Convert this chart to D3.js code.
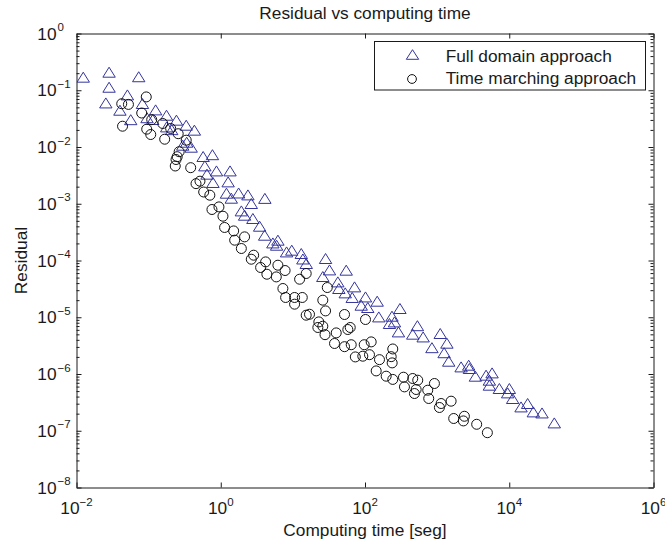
<!DOCTYPE html>
<html><head><meta charset="utf-8">
<script src="https://cdn.jsdelivr.net/npm/d3@7"></script>
<style>body{margin:0;background:#fff}svg{display:block}</style>
</head><body>
<script>
// ---- data ----
const fullTime = [0.0124,0.0283,0.0729,0.0283,0.0508,0.0255,0.0400,0.0821,0.0565,0.125,0.0950,0.177,0.114,0.243,0.178,0.332,0.209,0.431,0.337,0.297,0.389,0.570,0.767,0.602,0.872,1.345,0.644,0.780,1.266,1.20,1.77,1.40,2.38,4.09,2.65,1.93,2.14,2.79,3.46,4.06,5.28,5.95,6.20,8.18,9.65,13.07,13.75,15.33,28.4,32.2,54.9,26.0,42.0,43.4,71.6,53.2,66.5,101.6,88.6,147.6,109.3,155.3,236.6,305,218.5,256.3,291,533,459,640,1104,847,1367,1250,1448,2150,2740,2802,3393,4771,5780,5301,5301,7294,10030,9502,11150,14570,17980,21570,28470,42140];
const fullResidual = [0.170,0.208,0.173,0.113,0.0828,0.0598,0.0445,0.0584,0.0303,0.0451,0.0328,0.0363,0.0305,0.0297,0.0226,0.0242,0.0202,0.0198,0.01215,0.01076,0.00992,0.00680,0.00732,0.00465,0.00379,0.00379,0.00332,0.00237,0.00243,0.001535,0.001547,0.001253,0.001432,0.001243,0.00101,7.48e-4,6.28e-4,5.50e-4,4.02e-4,2.79e-4,2.04e-4,1.86e-4,2.28e-4,1.417e-4,1.519e-4,1.328e-4,1.063e-4,8.85e-5,1.084e-4,6.83e-5,6.75e-5,5.22e-5,4.20e-5,3.21e-5,3.43e-5,2.69e-5,2.23e-5,2.28e-5,1.63e-5,1.918e-5,1.485e-5,1.014e-5,1.043e-5,1.426e-5,7.76e-6,8.28e-6,5.52e-6,7.10e-6,5.03e-6,4.50e-6,5.17e-6,2.91e-6,3.49e-6,2.37e-6,1.68e-6,1.334e-6,1.429e-6,1.250e-6,9.15e-7,9.53e-7,1.046e-6,7.78e-7,6.35e-7,5.55e-7,5.55e-7,4.65e-7,3.70e-7,2.63e-7,3.02e-7,2.15e-7,2.06e-7,1.375e-7];
const marchTime = [0.0927,0.0424,0.0525,0.0802,0.0435,0.1104,0.157,0.0941,0.107,0.202,0.257,0.167,0.332,0.265,0.249,0.240,0.234,0.383,0.515,0.454,0.580,0.706,0.755,0.944,1.073,1.13,1.51,2.14,1.56,1.93,2.86,2.65,4.19,3.57,6.20,7.80,4.36,5.89,15.3,12.4,7.27,7.93,30.0,10.56,13.5,10.56,26.0,15.3,17.0,28.4,52.0,101.6,22.9,26.0,22.2,27.9,57.8,62.4,39.9,37.8,52.0,64.4,97.5,121.8,242.7,73.4,93.2,115.4,158.8,230.7,238,142.9,196.6,242.7,341.5,459,538.6,352.4,512,485,917.6,741,765,1136,1076,1563,1698,2388,2313,3536,4974];
const marchResidual = [0.0763,0.0579,0.0563,0.0397,0.02325,0.0303,0.02595,0.0206,0.0166,0.0212,0.01715,0.01372,0.01318,0.00826,0.00675,0.00602,0.00463,0.00432,0.00250,0.00226,0.00161,0.001415,7.92e-4,8.80e-4,6.03e-4,3.82e-4,3.32e-4,2.61e-4,2.28e-4,1.627e-4,1.24e-4,1.054e-4,9.45e-5,7.53e-5,8.26e-5,6.66e-5,5.73e-5,5.14e-5,5.90e-5,4.68e-5,3.21e-5,2.23e-5,3.34e-5,2.23e-5,2.23e-5,1.70e-5,2.00e-5,1.087e-5,1.13e-5,1.294e-5,1.118e-5,9.13e-6,8.28e-6,6.95e-6,6.60e-6,4.93e-6,6.08e-6,6.60e-6,5.30e-6,3.45e-6,3.03e-6,3.28e-6,3.28e-6,3.68e-6,2.76e-6,2.00e-6,2.06e-6,2.19e-6,1.79e-6,2.02e-6,1.57e-6,1.134e-6,9.15e-7,8.03e-7,8.78e-7,8.33e-7,7.78e-7,5.93e-7,5.33e-7,4.53e-7,6.80e-7,5.18e-7,3.70e-7,3.02e-7,2.57e-7,3.32e-7,1.644e-7,1.80e-7,1.49e-7,1.30e-7,9.24e-8];
const xTickExponents = [-2, 0, 2, 4, 6];
const yTickExponents = [-8, -7, -6, -5, -4, -3, -2, -1, 0];
const seriesNames = ["Full domain approach", "Time marching approach"];
const titleText = "Residual vs computing time";
const xLabelText = "Computing time [seg]";
const yLabelText = "Residual";

// ---- layout ----
const W = 665, H = 544;
const P = {l: 76.5, r: 653.5, t: 33.5, b: 487.5};
const FONT = "'Liberation Sans', Arial, Helvetica, sans-serif";
const INK = "#1a1a1a";
const BLUE = "#34349c";

const x = d3.scaleLog().domain([1e-2, 1e6]).range([P.l, P.r]);
const y = d3.scaleLog().domain([1e-8, 1]).range([P.b, P.t]);

const svg = d3.select("body").append("svg")
  .attr("width", W).attr("height", H)
  .style("font-family", FONT);
svg.append("rect").attr("width", W).attr("height", H).attr("fill", "#fff");

const xMajor = xTickExponents.map(e => Math.pow(10, e));
const yMajor = yTickExponents.map(e => Math.pow(10, e));
const yMinor = [];
for (let i = 0; i < yTickExponents.length - 1; i++)
  for (let k = 2; k <= 9; k++) yMinor.push(k * Math.pow(10, yTickExponents[i]));

function styleAxis(g) {
  g.selectAll("path.domain").attr("stroke", INK).attr("stroke-width", 1);
  g.selectAll(".tick line").attr("stroke", INK).attr("stroke-width", 1);
  g.selectAll(".tick text").remove();
}
// major ticks on all four sides (inward)
svg.append("g").attr("transform", `translate(0,${P.b})`)
  .call(d3.axisBottom(x).tickValues(xMajor).tickSizeInner(-5).tickSizeOuter(0).tickFormat("")).call(styleAxis);
svg.append("g").attr("transform", `translate(0,${P.t})`)
  .call(d3.axisTop(x).tickValues(xMajor).tickSizeInner(-5).tickSizeOuter(0).tickFormat("")).call(styleAxis);
svg.append("g").attr("transform", `translate(${P.l},0)`)
  .call(d3.axisLeft(y).tickValues(yMajor).tickSizeInner(-5).tickSizeOuter(0).tickFormat("")).call(styleAxis);
svg.append("g").attr("transform", `translate(${P.r},0)`)
  .call(d3.axisRight(y).tickValues(yMajor).tickSizeInner(-5).tickSizeOuter(0).tickFormat("")).call(styleAxis);
// minor y ticks
svg.append("g").attr("transform", `translate(${P.l},0)`)
  .call(d3.axisLeft(y).tickValues(yMinor).tickSizeInner(-3).tickSizeOuter(0).tickFormat("")).call(styleAxis)
  .select("path.domain").remove();
svg.append("g").attr("transform", `translate(${P.r},0)`)
  .call(d3.axisRight(y).tickValues(yMinor).tickSizeInner(-3).tickSizeOuter(0).tickFormat("")).call(styleAxis)
  .select("path.domain").remove();

const expStr = e => (e < 0 ? "\u2212" + (-e) : String(e));

// x tick labels
xTickExponents.forEach(e => {
  const t = svg.append("text").attr("x", x(Math.pow(10, e))).attr("y", 514)
    .attr("text-anchor", "middle").attr("fill", INK).attr("font-size", 17.3);
  t.append("tspan").text("10");
  t.append("tspan").attr("dy", -8.3).attr("font-size", 11.5).text(expStr(e));
});
// y tick labels
yTickExponents.forEach(e => {
  const yy = y(Math.pow(10, e));
  svg.append("text").attr("x", 56.5).attr("y", yy + 6.2).attr("text-anchor", "end")
    .attr("fill", INK).attr("font-size", 17.3).text("10");
  svg.append("text").attr("x", 57.5).attr("y", yy - 2.4).attr("text-anchor", "start")
    .attr("fill", INK).attr("font-size", 11.5).text(expStr(e));
});

// title and axis labels
svg.append("text").attr("x", (P.l + P.r) / 2).attr("y", 19).attr("text-anchor", "middle")
  .attr("fill", INK).attr("font-size", 17.3).text(titleText);
svg.append("text").attr("x", (P.l + P.r) / 2).attr("y", 536).attr("text-anchor", "middle")
  .attr("fill", INK).attr("font-size", 17.3).text(xLabelText);
svg.append("text").attr("transform", `translate(27,${(P.t + P.b) / 2}) rotate(-90)`)
  .attr("text-anchor", "middle").attr("fill", INK).attr("font-size", 17.3).text(yLabelText);

// markers
const tri = (hw, hh) => `M0,${-hh}L${hw},${hh}L${-hw},${hh}Z`;
const fullData = fullTime.map((t, i) => [t, fullResidual[i]]);
const marchData = marchTime.map((t, i) => [t, marchResidual[i]]);

svg.append("g").selectAll("path").data(fullData).join("path")
  .attr("d", tri(6.2, 5))
  .attr("transform", d => `translate(${x(d[0])},${y(d[1])})`)
  .attr("fill", "none").attr("stroke", BLUE).attr("stroke-width", 1);
svg.append("g").selectAll("circle").data(marchData).join("circle")
  .attr("cx", d => x(d[0])).attr("cy", d => y(d[1])).attr("r", 5)
  .attr("fill", "none").attr("stroke", "#111").attr("stroke-width", 1);

// legend
const lg = svg.append("g");
lg.append("rect").attr("x", 374.5).attr("y", 41.5).attr("width", 271).attr("height", 48.5)
  .attr("fill", "#fff").attr("stroke", INK).attr("stroke-width", 1);
lg.append("path").attr("d", tri(6.2, 4.8)).attr("transform", "translate(412.5,54.5)")
  .attr("fill", "none").attr("stroke", BLUE).attr("stroke-width", 1);
lg.append("circle").attr("cx", 412).attr("cy", 79).attr("r", 4.4)
  .attr("fill", "none").attr("stroke", "#111").attr("stroke-width", 1);
lg.append("text").attr("x", 445.7).attr("y", 62).attr("fill", INK).attr("font-size", 17.3).text(seriesNames[0]);
lg.append("text").attr("x", 445.7).attr("y", 83.5).attr("fill", INK).attr("font-size", 17.3).text(seriesNames[1]);
</script>
</body></html>
